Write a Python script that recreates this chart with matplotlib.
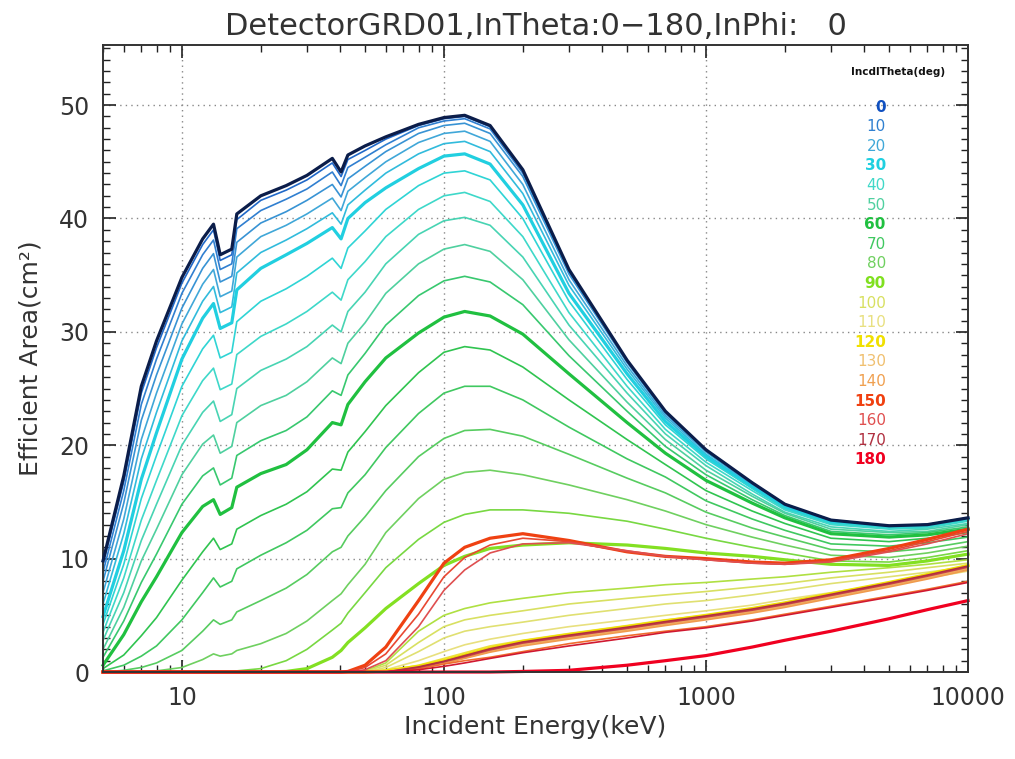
import matplotlib
matplotlib.use('Agg')
import matplotlib.pyplot as plt
from matplotlib.colors import LinearSegmentedColormap
from matplotlib.ticker import LogLocator, MultipleLocator, NullFormatter

# incident energy grid (keV)
energy = [5, 6, 7, 8, 10, 12, 13.2, 14, 15.5, 16.2, 20, 25, 30, 37.5, 40.5, 43, 50, 60, 80,
          100, 120, 150, 200, 300, 500, 700, 1000, 1500, 2000, 3000, 5000, 7000, 10000]

# effective area (cm2) per incident theta
t0 = [9.8, 17.3, 25.2, 29.2, 34.8, 38.2, 39.5, 36.8, 37.3, 40.4, 42.0, 42.9, 43.8, 45.3, 44.1, 45.6, 46.4, 47.2, 48.3, 48.9, 49.1, 48.2, 44.3, 35.5, 27.5, 23.0, 19.6, 16.7, 14.8, 13.4, 12.9, 13.0, 13.6]
t5 = [9.5, 16.8, 24.6, 28.6, 34.3, 37.7, 39.0, 36.3, 36.8, 39.9, 41.6, 42.5, 43.4, 44.9, 43.7, 45.2, 46.0, 47.0, 48.2, 48.8, 49.0, 48.1, 44.2, 35.4, 27.5, 23.0, 19.6, 16.7, 14.8, 13.4, 12.9, 13.0, 13.6]
t10 = [8.8, 16.0, 23.6, 27.6, 33.4, 36.8, 38.1, 35.5, 36.0, 39.1, 40.7, 41.7, 42.6, 44.1, 42.9, 44.5, 45.4, 46.5, 48.0, 48.6, 48.8, 47.9, 44.0, 35.3, 27.4, 22.9, 19.5, 16.7, 14.8, 13.4, 12.9, 13.0, 13.6]
t15 = [8.0, 14.9, 22.2, 26.2, 32.1, 35.6, 36.9, 34.4, 34.9, 37.9, 39.6, 40.6, 41.6, 43.0, 41.9, 43.5, 44.6, 45.9, 47.5, 48.2, 48.4, 47.5, 43.7, 35.1, 27.3, 22.8, 19.5, 16.6, 14.7, 13.4, 12.9, 13.0, 13.6]
t20 = [7.0, 13.5, 20.5, 24.6, 30.7, 34.2, 35.5, 33.1, 33.6, 36.6, 38.4, 39.4, 40.4, 41.8, 40.7, 42.4, 43.6, 45.0, 46.7, 47.5, 47.7, 46.8, 43.0, 34.6, 27.0, 22.6, 19.4, 16.5, 14.7, 13.3, 12.9, 13.0, 13.6]
t25 = [6.0, 12.2, 18.8, 22.9, 29.2, 32.7, 34.0, 31.7, 32.2, 35.2, 37.0, 38.1, 39.1, 40.5, 39.5, 41.2, 42.5, 44.0, 45.7, 46.6, 46.8, 45.9, 42.2, 34.1, 26.7, 22.4, 19.2, 16.4, 14.6, 13.3, 12.8, 12.9, 13.5]
t30 = [4.9, 10.7, 17.0, 21.1, 27.6, 31.2, 32.5, 30.3, 30.8, 33.7, 35.6, 36.8, 37.8, 39.2, 38.2, 40.0, 41.4, 42.7, 44.4, 45.5, 45.7, 44.8, 41.2, 33.4, 26.3, 22.1, 19.0, 16.3, 14.5, 13.2, 12.8, 12.9, 13.5]
t35 = [4.2, 9.5, 15.3, 19.1, 25.2, 28.5, 29.7, 27.7, 28.2, 30.9, 32.7, 33.8, 34.9, 36.5, 35.6, 37.4, 38.9, 40.8, 42.9, 44.0, 44.2, 43.4, 40.0, 32.7, 25.8, 21.8, 18.8, 16.2, 14.4, 13.1, 12.7, 12.8, 13.4]
t40 = [3.5, 8.3, 13.4, 16.9, 22.6, 25.7, 26.8, 24.9, 25.4, 28.0, 29.6, 30.7, 31.8, 33.5, 32.8, 34.6, 36.2, 38.4, 40.8, 42.0, 42.3, 41.5, 38.4, 31.7, 25.2, 21.4, 18.5, 16.0, 14.3, 13.0, 12.6, 12.7, 13.3]
t45 = [2.8, 7.0, 11.6, 14.8, 20.0, 22.9, 23.9, 22.1, 22.7, 25.0, 26.6, 27.6, 28.7, 30.6, 30.0, 31.8, 33.5, 36.0, 38.6, 39.8, 40.1, 39.4, 36.6, 30.6, 24.6, 21.0, 18.2, 15.7, 14.1, 12.8, 12.4, 12.6, 13.1]
t50 = [2.0, 5.7, 9.8, 12.6, 17.4, 20.1, 20.9, 19.3, 19.9, 22.0, 23.5, 24.4, 25.6, 27.7, 27.2, 29.0, 30.8, 33.4, 36.0, 37.3, 37.7, 37.1, 34.6, 29.3, 23.8, 20.5, 17.8, 15.5, 14.0, 12.6, 12.3, 12.4, 13.0]
t55 = [1.3, 4.5, 7.9, 10.4, 14.8, 17.3, 18.0, 16.5, 17.1, 19.1, 20.4, 21.3, 22.5, 24.8, 24.4, 26.2, 28.1, 30.6, 33.2, 34.5, 34.9, 34.4, 32.4, 27.9, 23.0, 19.9, 17.4, 15.2, 13.8, 12.4, 12.1, 12.3, 12.8]
t60 = [0.6, 3.3, 6.2, 8.4, 12.3, 14.6, 15.2, 13.9, 14.5, 16.3, 17.5, 18.3, 19.6, 22.0, 21.8, 23.6, 25.6, 27.7, 29.9, 31.3, 31.8, 31.4, 29.8, 26.3, 22.0, 19.3, 16.9, 14.9, 13.6, 12.2, 11.9, 12.1, 12.6]
t65 = [0.3, 1.5, 3.2, 4.8, 8.1, 10.6, 11.8, 10.8, 11.3, 12.6, 13.8, 14.8, 15.9, 17.9, 17.8, 19.4, 21.2, 23.5, 26.4, 28.2, 28.7, 28.4, 26.9, 24.0, 20.5, 18.3, 16.0, 14.2, 13.1, 11.8, 11.5, 11.8, 12.3]
t70 = [0.1, 0.6, 1.4, 2.3, 4.6, 7.0, 8.3, 7.5, 8.0, 9.1, 10.3, 11.4, 12.5, 14.4, 14.5, 15.8, 17.4, 19.8, 22.8, 24.6, 25.2, 25.2, 24.0, 21.6, 18.8, 17.2, 15.1, 13.5, 12.5, 11.3, 11.1, 11.4, 11.9]
t75 = [0.0, 0.15, 0.4, 0.8, 1.9, 3.6, 4.6, 4.2, 4.6, 5.3, 6.3, 7.4, 8.6, 10.6, 11.0, 12.0, 13.7, 16.0, 19.0, 20.6, 21.3, 21.4, 20.8, 19.2, 17.1, 15.8, 14.1, 12.7, 11.9, 10.8, 10.6, 10.9, 11.5]
t80 = [0.0, 0.0, 0.05, 0.1, 0.4, 1.1, 1.6, 1.4, 1.6, 1.9, 2.5, 3.4, 4.5, 6.3, 6.9, 7.7, 9.5, 12.3, 15.3, 17.0, 17.6, 17.8, 17.4, 16.5, 15.2, 14.2, 13.0, 11.9, 11.2, 10.3, 10.1, 10.5, 11.1]
t85 = [0.0, 0.0, 0.0, 0.0, 0.0, 0.02, 0.05, 0.05, 0.07, 0.1, 0.3, 1.0, 2.0, 3.7, 4.3, 5.2, 7.0, 9.2, 11.7, 13.2, 13.9, 14.3, 14.3, 14.0, 13.3, 12.6, 11.8, 11.0, 10.5, 9.8, 9.7, 10.1, 10.7]
t90 = [0.0, 0.0, 0.0, 0.0, 0.0, 0.0, 0.0, 0.0, 0.0, 0.0, 0.0, 0.05, 0.3, 1.3, 1.9, 2.6, 3.9, 5.6, 7.8, 9.4, 10.2, 10.9, 11.2, 11.4, 11.2, 10.9, 10.5, 10.2, 9.9, 9.5, 9.4, 9.8, 10.4]
t95 = [0.0, 0.0, 0.0, 0.0, 0.0, 0.0, 0.0, 0.0, 0.0, 0.0, 0.0, 0.0, 0.0, 0.0, 0.0, 0.0, 0.1, 0.8, 3.6, 5.0, 5.6, 6.1, 6.5, 7.0, 7.4, 7.7, 7.9, 8.2, 8.4, 8.8, 9.2, 9.5, 9.9]
t100 = [0.0, 0.0, 0.0, 0.0, 0.0, 0.0, 0.0, 0.0, 0.0, 0.0, 0.0, 0.0, 0.0, 0.0, 0.0, 0.0, 0.05, 0.6, 2.6, 4.0, 4.6, 5.0, 5.4, 6.0, 6.5, 6.8, 7.1, 7.5, 7.8, 8.3, 8.8, 9.2, 9.6]
t105 = [0.0, 0.0, 0.0, 0.0, 0.0, 0.0, 0.0, 0.0, 0.0, 0.0, 0.0, 0.0, 0.0, 0.0, 0.0, 0.0, 0.0, 0.4, 1.8, 3.0, 3.6, 4.0, 4.4, 5.0, 5.6, 6.0, 6.3, 6.8, 7.2, 7.8, 8.4, 8.8, 9.3]
t110 = [0.0, 0.0, 0.0, 0.0, 0.0, 0.0, 0.0, 0.0, 0.0, 0.0, 0.0, 0.0, 0.0, 0.0, 0.0, 0.0, 0.0, 0.2, 1.0, 1.8, 2.4, 2.9, 3.4, 4.0, 4.6, 5.0, 5.4, 5.9, 6.4, 7.0, 7.8, 8.3, 8.9]
t115 = [0.0, 0.0, 0.0, 0.0, 0.0, 0.0, 0.0, 0.0, 0.0, 0.0, 0.0, 0.0, 0.0, 0.0, 0.0, 0.0, 0.0, 0.1, 0.6, 1.2, 1.7, 2.3, 2.8, 3.4, 4.1, 4.6, 5.0, 5.6, 6.1, 6.8, 7.7, 8.4, 9.2]
t120 = [0.0, 0.0, 0.0, 0.0, 0.0, 0.0, 0.0, 0.0, 0.0, 0.0, 0.0, 0.0, 0.0, 0.0, 0.0, 0.0, 0.0, 0.1, 0.5, 1.0, 1.5, 2.1, 2.7, 3.3, 4.0, 4.5, 5.0, 5.6, 6.1, 6.9, 7.9, 8.6, 9.4]
t125 = [0.0, 0.0, 0.0, 0.0, 0.0, 0.0, 0.0, 0.0, 0.0, 0.0, 0.0, 0.0, 0.0, 0.0, 0.0, 0.0, 0.0, 0.05, 0.45, 0.9, 1.4, 2.0, 2.6, 3.2, 3.9, 4.4, 4.9, 5.5, 6.0, 6.8, 7.8, 8.5, 9.3]
t130 = [0.0, 0.0, 0.0, 0.0, 0.0, 0.0, 0.0, 0.0, 0.0, 0.0, 0.0, 0.0, 0.0, 0.0, 0.0, 0.0, 0.0, 0.05, 0.4, 0.85, 1.3, 1.9, 2.5, 3.1, 3.8, 4.3, 4.8, 5.4, 5.9, 6.7, 7.7, 8.4, 9.2]
t135 = [0.0, 0.0, 0.0, 0.0, 0.0, 0.0, 0.0, 0.0, 0.0, 0.0, 0.0, 0.0, 0.0, 0.0, 0.0, 0.0, 0.0, 0.0, 0.35, 0.8, 1.25, 1.8, 2.4, 3.0, 3.7, 4.2, 4.7, 5.3, 5.8, 6.6, 7.6, 8.3, 9.1]
t140 = [0.0, 0.0, 0.0, 0.0, 0.0, 0.0, 0.0, 0.0, 0.0, 0.0, 0.0, 0.0, 0.0, 0.0, 0.0, 0.0, 0.0, 0.0, 0.3, 0.75, 1.2, 1.75, 2.3, 2.9, 3.6, 4.1, 4.6, 5.2, 5.7, 6.5, 7.5, 8.2, 9.0]
t145 = [0.0, 0.0, 0.0, 0.0, 0.0, 0.0, 0.0, 0.0, 0.0, 0.0, 0.0, 0.0, 0.0, 0.0, 0.0, 0.0, 0.0, 0.0, 0.3, 0.7, 1.0, 1.3, 1.8, 2.5, 3.2, 3.6, 4.0, 4.6, 5.1, 5.8, 6.7, 7.3, 8.0]
t150 = [0.0, 0.0, 0.0, 0.0, 0.0, 0.0, 0.0, 0.0, 0.0, 0.0, 0.0, 0.0, 0.0, 0.0, 0.0, 0.05, 0.6, 2.2, 6.3, 9.6, 11.0, 11.8, 12.2, 11.6, 10.6, 10.2, 10.0, 9.7, 9.6, 9.9, 10.9, 11.7, 12.6]
t155 = [0.0, 0.0, 0.0, 0.0, 0.0, 0.0, 0.0, 0.0, 0.0, 0.0, 0.0, 0.0, 0.0, 0.0, 0.0, 0.02, 0.4, 1.6, 5.1, 8.4, 10.1, 11.2, 11.8, 11.5, 10.6, 10.2, 9.9, 9.6, 9.5, 9.8, 10.7, 11.5, 12.4]
t160 = [0.0, 0.0, 0.0, 0.0, 0.0, 0.0, 0.0, 0.0, 0.0, 0.0, 0.0, 0.0, 0.0, 0.0, 0.0, 0.0, 0.2, 1.0, 4.0, 7.2, 9.0, 10.5, 11.3, 11.4, 10.7, 10.2, 9.9, 9.6, 9.5, 9.7, 10.6, 11.3, 12.2]
t165 = [0.0, 0.0, 0.0, 0.0, 0.0, 0.0, 0.0, 0.0, 0.0, 0.0, 0.0, 0.0, 0.0, 0.0, 0.0, 0.0, 0.0, 0.0, 0.4, 0.9, 1.35, 1.95, 2.55, 3.15, 3.85, 4.35, 4.85, 5.45, 5.95, 6.75, 7.75, 8.45, 9.25]
t170 = [0.0, 0.0, 0.0, 0.0, 0.0, 0.0, 0.0, 0.0, 0.0, 0.0, 0.0, 0.0, 0.0, 0.0, 0.0, 0.0, 0.0, 0.0, 0.45, 0.95, 1.45, 2.05, 2.65, 3.25, 3.95, 4.45, 4.95, 5.55, 6.05, 6.85, 7.85, 8.55, 9.35]
t175 = [0.0, 0.0, 0.0, 0.0, 0.0, 0.0, 0.0, 0.0, 0.0, 0.0, 0.0, 0.0, 0.0, 0.0, 0.0, 0.0, 0.0, 0.0, 0.2, 0.5, 0.8, 1.2, 1.7, 2.3, 3.0, 3.5, 3.9, 4.5, 5.0, 5.7, 6.6, 7.2, 7.9]
t180 = [0.0, 0.0, 0.0, 0.0, 0.0, 0.0, 0.0, 0.0, 0.0, 0.0, 0.0, 0.0, 0.0, 0.0, 0.0, 0.0, 0.0, 0.0, 0.0, 0.0, 0.0, 0.0, 0.05, 0.15, 0.6, 1.0, 1.45, 2.2, 2.8, 3.6, 4.7, 5.5, 6.3]

theta = [0, 5, 10, 15, 20, 25, 30, 35, 40, 45, 50, 55, 60, 65, 70, 75, 80, 85, 90,
         95, 100, 105, 110, 115, 120, 125, 130, 135, 140, 145, 150, 155, 160, 165, 170, 175, 180]
curves = [t0, t5, t10, t15, t20, t25, t30, t35, t40, t45, t50, t55, t60, t65, t70, t75, t80, t85, t90,
          t95, t100, t105, t110, t115, t120, t125, t130, t135, t140, t145, t150, t155, t160, t165, t170, t175, t180]

legend_labels = ['0', '10', '20', '30', '40', '50', '60', '70', '80', '90',
                 '100', '110', '120', '130', '140', '150', '160', '170', '180']
legend_colors = ['#1050c0', '#3080d0', '#40a8d8', '#20d0e0', '#40d8c8', '#50d0a0', '#20c040',
                 '#40c860', '#70d060', '#80e020', '#d8e060', '#e8e080', '#f0e000', '#f0c070',
                 '#f0a050', '#f04010', '#e05050', '#b03040', '#f00020']

cmap = LinearSegmentedColormap.from_list('incd', legend_colors)

fig = plt.figure(figsize=(10.15, 7.59), dpi=100)
ax = fig.add_axes([0.1015, 0.1146, 0.8522, 0.8261])

for th, vals in zip(theta, curves):
    bold = th % 30 == 0
    col = cmap(th / 180.0)
    z = 2
    if th == 0:
        col = '#0b1d4a'
        z = 3
    ax.plot(energy, vals, color=col, lw=2.3 if bold else 1.2, zorder=z, clip_on=False)

ax.set_xscale('log')
ax.set_xlim(5, 10000)
ax.set_ylim(0, 55.3)

ax.set_xticks([10, 100, 1000, 10000])
ax.set_xticklabels(['10', '100', '1000', '10000'])
ax.xaxis.set_minor_locator(LogLocator(base=10, subs=[2, 3, 4, 5, 6, 7, 8, 9]))
ax.xaxis.set_minor_formatter(NullFormatter())
ax.set_yticks([0, 10, 20, 30, 40, 50])
ax.yaxis.set_minor_locator(MultipleLocator(1))

ax.tick_params(which='both', direction='in', top=True, right=True, colors='#222222')
ax.tick_params(which='major', length=9, width=1.2, labelsize=17, pad=10, labelcolor='#333333')
ax.tick_params(which='minor', length=5, width=1.0)

for gx in [10, 100, 1000]:
    ax.axvline(gx, color='#888888', lw=1.0, ls=(0, (1, 3)), zorder=1)
for gy in [10, 20, 30, 40, 50]:
    ax.axhline(gy, color='#888888', lw=1.0, ls=(0, (1, 3)), zorder=1)

for s in ax.spines.values():
    s.set_linewidth(1.4)
    s.set_color('#333333')

ax.set_title('DetectorGRD01,InTheta:0\u2212180,InPhi:   0', fontsize=22, color='#333333', pad=7)
ax.set_xlabel('Incident Energy(keV)', fontsize=18, color='#333333', labelpad=4)
ax.set_ylabel('Efficient Area(cm\u00b2)', fontsize=18, color='#333333', labelpad=12)

ax.text(0.919, 0.957, 'IncdlTheta(deg)', transform=ax.transAxes, ha='center', va='center',
        fontsize=7.5, fontweight='bold', color='#111111')
for i, (lab, c) in enumerate(zip(legend_labels, legend_colors)):
    ax.text(0.905, 0.901 - i * 0.03126, lab, transform=ax.transAxes, ha='right', va='center',
            fontsize=11, color=c, fontweight='bold' if i % 3 == 0 else 'normal')

fig.savefig('out.png', dpi=100)
